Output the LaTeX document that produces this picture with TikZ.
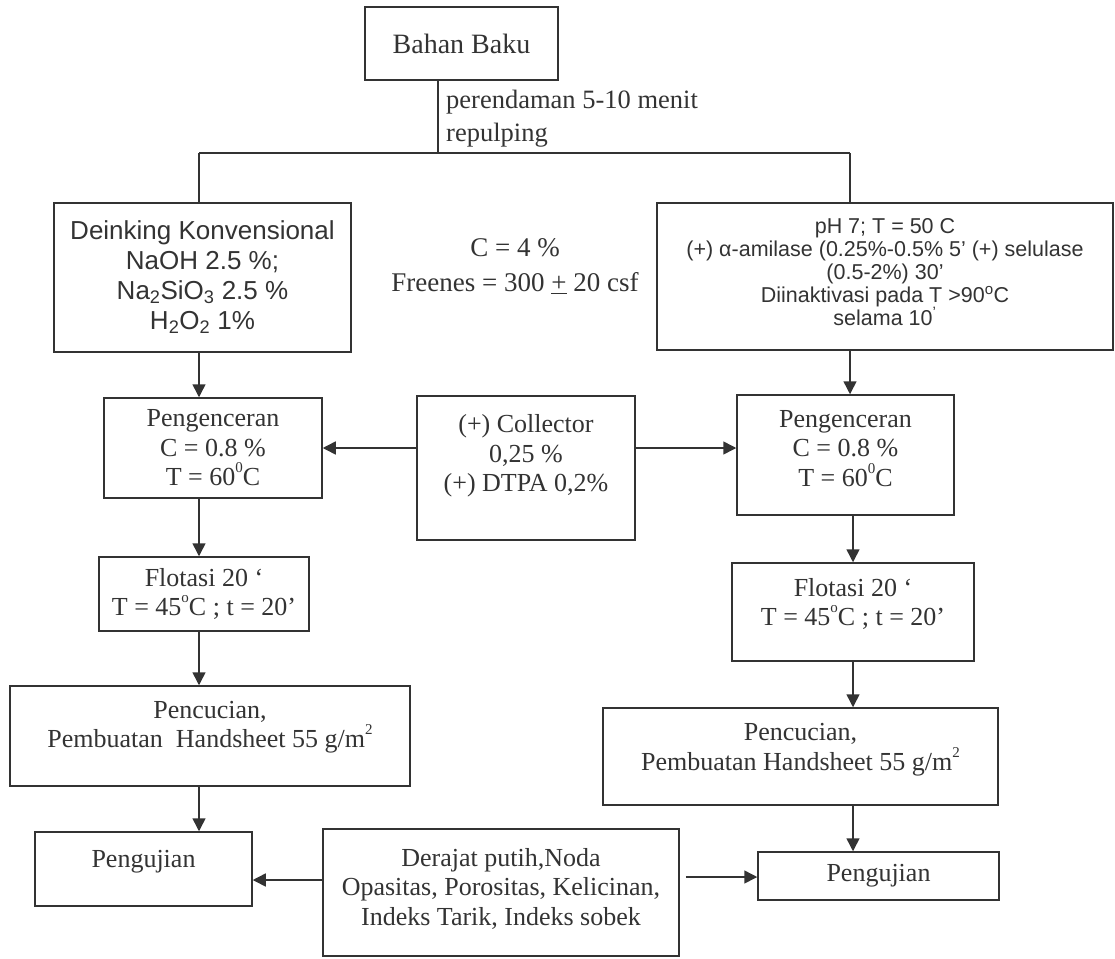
\documentclass[tikz,border=0pt]{standalone}
\usepackage{fontspec}
\setmainfont{Liberation Serif}
\setsansfont{Liberation Sans}
\usetikzlibrary{arrows.meta}
\definecolor{ink}{HTML}{333333}
\newcommand{\smallsup}[1]{\raisebox{0.5em}{\fontsize{15}{15}\selectfont #1}}
\begin{document}
\begin{tikzpicture}[x=1pt,y=-1pt,
  box/.style={draw=ink, line width=1.5pt, text=ink, align=center, inner sep=0pt, font=\fontsize{26}{29.5}\selectfont},
  sbox/.style={box, font=\sffamily\fontsize{26}{30}\selectfont},
  conn/.style={draw=ink, line width=1.5pt},
  arr/.style={conn, -{Triangle[length=13pt,width=13pt]}},
  plain/.style={text=ink, inner sep=0pt}
]
\useasboundingbox (0,0) rectangle (1115,958);
\fill[white] (0,0) rectangle (1115,958);

% top
\node[box, minimum width=193pt, minimum height=73pt, font=\fontsize{28}{32}\selectfont] (bahan) at (461.5,43.5) {Bahan Baku};
\coordinate (split) at (438,153);
\coordinate (brL) at (199,153);
\coordinate (brR) at (850,153);
\draw[conn] (bahan.south -| split) -- (split);
\draw[conn] (brL) -- (brR);
\node[plain, anchor=west, align=left, font=\fontsize{26.5}{33}\selectfont] (soak) at (446,119) {perendaman 5-10 menit\\repulping};

% second row
\node[sbox, minimum width=297pt, minimum height=149pt] (dein) at (202.5,277.5)
  {Deinking Konvensional\\NaOH 2.5 \%;\\Na\textsubscript{2}SiO\textsubscript{3} 2.5 \%\\H\textsubscript{2}O\textsubscript{2} 1\%};
\draw[conn] (brL) -- (brL |- dein.north);

\node[sbox, minimum width=456pt, minimum height=147pt, text depth=10pt, font=\sffamily\fontsize{21.5}{23}\selectfont] (enz) at (885,276.5)
  {pH 7; T = 50 C\\(+) α-amilase (0.25\%-0.5\% 5’ (+) selulase\\(0.5-2\%) 30’\\Diinaktivasi pada T >90\textsuperscript{o}C\\selama 10\textsuperscript{’}};
\draw[conn] (brR) -- (brR |- enz.north);

\node[plain, align=center, font=\fontsize{27}{35}\selectfont] (cons) at (515,266) {C = 4 \%\\Freenes = 300 \underline{+} 20 csf};

% third row
\node[box, minimum width=218pt, minimum height=100pt] (pengL) at (213,448) {Pengenceran\\C = 0.8 \%\\T = 60\smallsup{0}C};
\draw[arr] (dein.south -| brL) -- (pengL.north -| brL);

\node[box, minimum width=217pt, minimum height=120pt, text depth=14pt] (pengR) at (845.5,455) {Pengenceran\\C = 0.8 \%\\T = 60\smallsup{0}C};
\draw[arr] (enz.south -| brR) -- (pengR.north -| brR);

\node[box, minimum width=218pt, minimum height=144pt] (coll) at (526,468) {(+) Collector\\0,25 \%\\(+) DTPA 0,2\%\\\mbox{}};
\draw[arr] (coll.west |- pengL.center) -- (pengL.east);
\draw[arr] (coll.east |- pengL.center) -- (pengR.west |- pengL.center);

% left column
\node[box, minimum width=210pt, minimum height=74pt] (floL) at (204,594) {Flotasi 20 ‘\\T = 45\smallsup{o}C ; t = 20’};
\draw[arr] (pengL.south -| brL) -- (floL.north -| brL);
\node[box, minimum width=400pt, minimum height=100pt, text depth=23pt] (pencL) at (210,736) {Pencucian,\\Pembuatan\ \ Handsheet 55 g/m\smallsup{2}};
\draw[arr] (floL.south -| brL) -- (pencL.north -| brL);
\node[box, minimum width=217pt, minimum height=74pt, text depth=20pt] (pengujL) at (143.5,869) {Pengujian};
\draw[arr] (pencL.south -| brL) -- (pengujL.north -| brL);

% bottom middle
\node[box, minimum width=356pt, minimum height=127pt, text depth=12pt] (der) at (501,892.5) {Derajat putih,Noda\\Opasitas, Porositas, Kelicinan,\\Indeks Tarik, Indeks sobek};
\coordinate (aL) at (0,880);
\draw[arr] (der.west |- aL) -- (pengujL.east |- aL);

% right column
\coordinate (colR) at (853,0);
\node[box, minimum width=242pt, minimum height=98pt, text depth=20pt] (floR) at (853,612) {Flotasi 20 ‘\\T = 45\smallsup{o}C ; t = 20’};
\draw[arr] (pengR.south -| colR) -- (floR.north -| colR);
\node[box, minimum width=395pt, minimum height=97pt, text depth=19pt] (pencR) at (800.5,756.5) {Pencucian,\\Pembuatan Handsheet 55 g/m\smallsup{2}};
\draw[arr] (floR.south -| colR) -- (pencR.north -| colR);
\node[box, minimum width=241pt, minimum height=48pt] (pengujR) at (878.5,876) {Pengujian};
\draw[arr] (pencR.south -| colR) -- (pengujR.north -| colR);
\coordinate (aR) at (0,877);
\draw[arr, shorten <=6pt] (der.east |- aR) -- (pengujR.west |- aR);
\end{tikzpicture}
\end{document}
